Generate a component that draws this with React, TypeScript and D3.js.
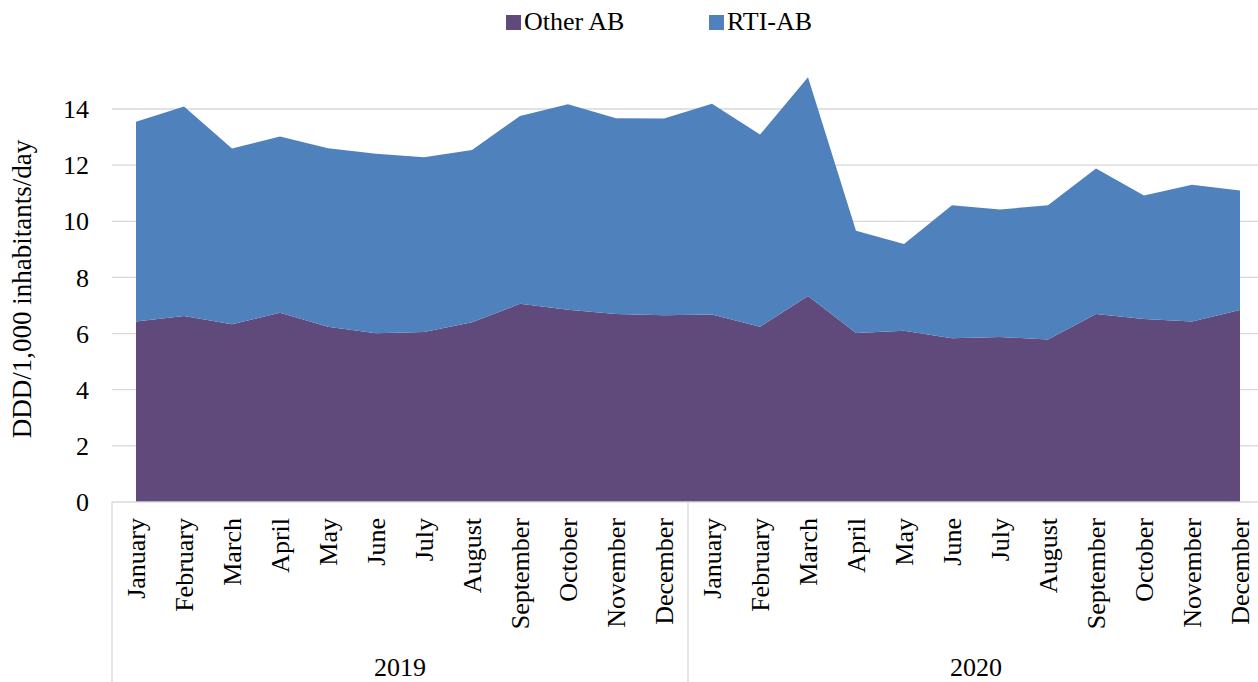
import React from "react";
import * as d3 from "d3";

const months = ["January","February","March","April","May","June","July","August","September","October","November","December"];
const years = ["2019", "2020"];
const otherAB = [6.43,6.63,6.33,6.74,6.24,6.01,6.06,6.40,7.06,6.85,6.70,6.65, 6.68,6.24,7.34,6.02,6.10,5.83,5.88,5.79,6.70,6.52,6.43,6.84];
const rtiAB = [7.12,7.46,6.26,6.28,6.36,6.40,6.22,6.14,6.69,7.32,6.97,7.01, 7.51,6.85,7.79,3.64,3.09,4.74,4.54,4.78,5.18,4.40,4.87,4.26];
const yTicks = [0, 2, 4, 6, 8, 10, 12, 14];
const seriesNames = ["Other AB", "RTI-AB"];
const colors = ["#604A7B", "#4F81BD"];

const W = 1258, H = 682;
const FONT = "'Liberation Serif', 'Times New Roman', serif";

export default function App() {
  const rows = years.flatMap((yr, yi) =>
    months.map((m, mi) => {
      const i = yi * 12 + mi;
      return { idx: i, year: yr, month: m, "Other AB": otherAB[i], "RTI-AB": rtiAB[i] };
    })
  );
  const x = d3.scaleBand<number>().domain(rows.map(r => r.idx)).range([112, 1264]);
  const cx = (i: number) => (x(i) as number) + x.bandwidth() / 2;
  const y = d3.scaleLinear().domain([0, 14]).range([502, 109]);
  const stacked = d3.stack<any>().keys(seriesNames)(rows);
  const area = d3.area<any>()
    .x((d: any) => cx(d.data.idx))
    .y0((d: any) => y(d[0]))
    .y1((d: any) => y(d[1]));

  const grid = "#d9d9d9";
  return (
    <svg width={W} height={H} style={{ position: "absolute", left: 0, top: 0, background: "#fff" }} fontFamily={FONT}>
      {yTicks.filter(t => t > 0).map(t => (
        <line key={t} x1={112} x2={W} y1={y(t)} y2={y(t)} stroke={grid} strokeWidth={1.3} />
      ))}
      {stacked.map((s, i) => (
        <path key={s.key} d={area(s) as string} fill={colors[i]} />
      ))}
      <line x1={112} x2={W} y1={y(0)} y2={y(0)} stroke={grid} strokeWidth={1.3} />
      {yTicks.map(t => (
        <text key={t} x={89} y={y(t)} dy="0.35em" textAnchor="end" fontSize={26} fill="#000">{t}</text>
      ))}
      <text transform={`translate(22,289) rotate(-90)`} textAnchor="middle" dy="0.35em" fontSize={27} fill="#000">DDD/1,000 inhabitants/day</text>
      {rows.map(r => (
        <text key={r.idx} transform={`translate(${cx(r.idx)},518) rotate(-90)`} textAnchor="end" dy="0.35em" fontSize={26} fill="#000">{r.month}</text>
      ))}
      {[0, 12, 24].map(k => {
        const xx = k < 24 ? (x(k) as number) : (x(23) as number) + x.bandwidth();
        return <line key={k} x1={xx} x2={xx} y1={y(0)} y2={H} stroke={grid} strokeWidth={1.3} />;
      })}
      {years.map((yr, yi) => {
        const x0 = x(yi * 12) as number;
        const x1 = (x(yi * 12 + 11) as number) + x.bandwidth();
        return <text key={yr} x={(x0 + x1) / 2} y={676} textAnchor="middle" fontSize={26} fill="#000">{yr}</text>;
      })}
      <g>
        <rect x={506} y={15} width={15} height={15} fill={colors[0]} />
        <text x={524} y={30} fontSize={26} fill="#000">{seriesNames[0]}</text>
        <rect x={709} y={15} width={15} height={15} fill={colors[1]} />
        <text x={727} y={30} fontSize={26} fill="#000">{seriesNames[1]}</text>
      </g>
    </svg>
  );
}
